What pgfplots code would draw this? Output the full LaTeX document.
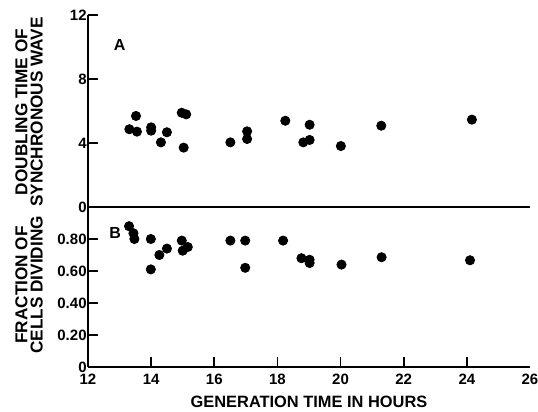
\documentclass[border=0pt]{standalone}
\usepackage{fontspec}
\setmainfont{Liberation Sans}
\usepackage{pgfplots}
\pgfplotsset{compat=1.18}
\pgfplotsset{
  panel/.style={
    scale only axis, width=221pt, xmin=12, xmax=26,
    axis x line*=bottom, axis y line*=left,
    axis line style={-, line width=1pt},
    tick align=inside, major tick length=5pt,
    tick style={line width=0.8pt, black},
    every tick label/.append style={font=\fontsize{7.5}{9}\selectfont\bfseries},
    /pgf/number format/assume math mode=true,
    yticklabel style={inner xsep=0.5pt},
    clip=false,
  }
}
\begin{document}
\begin{tikzpicture}
\path[use as bounding box] (-44pt,-22.5pt) rectangle (225pt,183.5pt);
% bottom panel B
\begin{axis}[panel, at={(0,0)}, anchor=south west, height=80pt,
  ymin=0, ymax=1,
  ytick={0,0.2,0.4,0.6,0.8}, yticklabels={0,0.20,0.40,0.60,0.80},
  xtick={14,16,18,20,22,24},
  extra x ticks={12,26}, extra x tick style={major tick length=0pt},
  xticklabel style={anchor=base, yshift=-9pt},
  xlabel={GENERATION TIME IN HOURS},
  xlabel style={font=\fontsize{8.2}{9}\selectfont\bfseries, at={(axis description cs:0.5,0)}, anchor=base, yshift=-20.5pt},
]
\addplot[only marks, mark=*, black, mark size=2.3pt] coordinates {
(13.30,0.88)(13.44,0.836)(13.47,0.80)(13.99,0.80)(13.99,0.61)(14.26,0.70)
(14.50,0.74)(14.97,0.79)(15.0,0.727)(15.16,0.75)(16.51,0.79)(16.98,0.79)
(16.98,0.62)(18.18,0.79)(18.76,0.68)(19.02,0.67)(19.02,0.65)(20.03,0.64)
(21.30,0.686)(24.1,0.667)
};
\node[font=\fontsize{8}{9}\selectfont\bfseries] at (axis cs:12.86,0.835) {B};
\end{axis}
% top panel A
\begin{axis}[panel, at={(0,80pt)}, anchor=south west, height=96pt,
  ymin=0, ymax=12, ytick={0,4,8,12},
  xtick=\empty,
]
\addplot[only marks, mark=*, black, mark size=2.3pt] coordinates {
(13.31,4.86)(13.52,5.69)(13.55,4.71)(14.0,4.98)(14.0,4.77)(14.31,4.04)
(14.50,4.67)(14.97,5.89)(15.11,5.79)(15.03,3.71)(16.51,4.04)(17.04,4.73)
(17.04,4.25)(18.25,5.39)(19.02,5.14)(18.82,4.04)(19.02,4.19)(20.01,3.81)
(21.29,5.08)(24.16,5.46)
};
\node[font=\fontsize{8}{9}\selectfont\bfseries] at (axis cs:13.0,10.1) {A};
\end{axis}
\node[rotate=90, align=center, inner sep=0pt, font=\fontsize{8.6}{7.6}\selectfont\bfseries]
  at (-29.5pt,127.5pt) {DOUBLING TIME OF\\SYNCHRONOUS WAVE};
\node[rotate=90, align=center, inner sep=0pt, font=\fontsize{8.6}{7.6}\selectfont\bfseries]
  at (-29.5pt,41pt) {FRACTION OF\\CELLS DIVIDING};
\end{tikzpicture}
\end{document}
